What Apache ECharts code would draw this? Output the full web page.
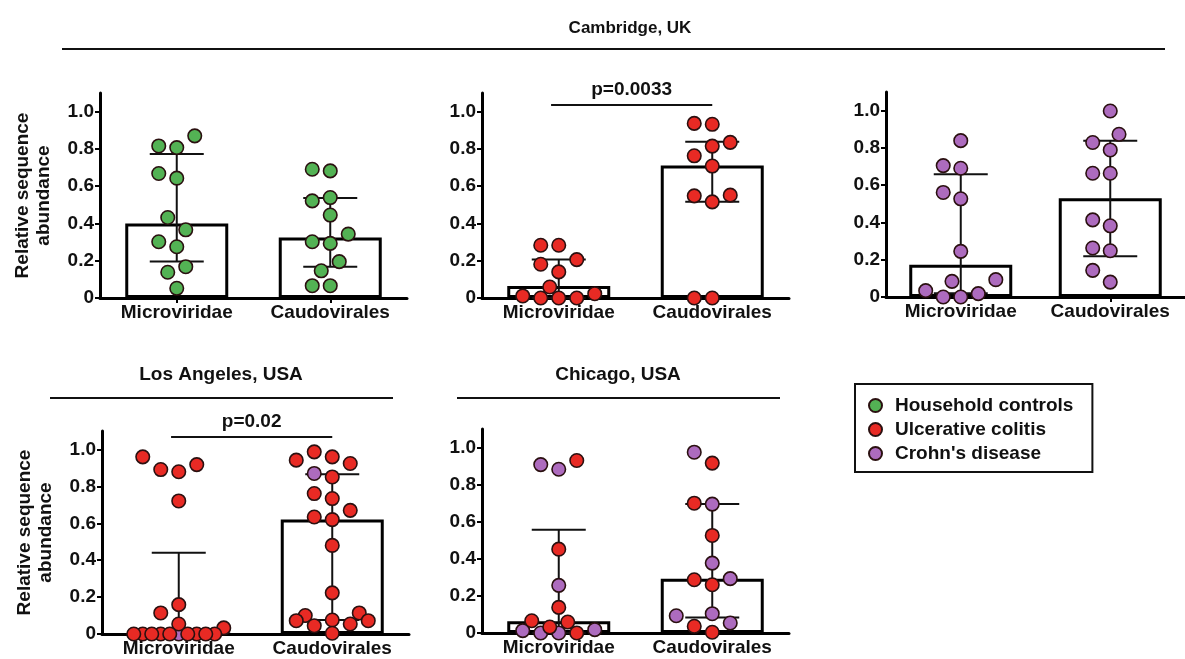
<!DOCTYPE html>
<html><head><meta charset="utf-8">
<script src="https://cdn.jsdelivr.net/npm/echarts@6/dist/echarts.min.js"></script>
<style>html,body{margin:0;padding:0;background:#fff}#c{width:1185px;height:659px}</style>
</head><body><div id="c"></div>
<script>
// ---------- DATA ----------
const categories = ['Microviridae', 'Caudovirales'];
const yTicks = [0, 0.2, 0.4, 0.6, 0.8, 1.0];
const groupNames = ['Household controls', 'Ulcerative colitis', "Crohn's disease"];

// Cambridge, UK — household controls
const cambHCMicro = [0.870, 0.816, 0.807, 0.668, 0.643, 0.432, 0.366, 0.302, 0.275, 0.168, 0.138, 0.052];
const cambHCCaudo = [0.691, 0.682, 0.539, 0.521, 0.445, 0.343, 0.302, 0.293, 0.195, 0.146, 0.066, 0.066];
const cambHCMedian = [0.400, 0.325];
const cambHCQ1 = [0.196, 0.168];
const cambHCQ3 = [0.773, 0.536];

// Cambridge, UK — ulcerative colitis
const cambUCMicro = [0.283, 0.283, 0.206, 0.181, 0.140, 0.059, 0.023, 0.011, 0, 0, 0];
const cambUCCaudo = [0.937, 0.932, 0.835, 0.815, 0.763, 0.708, 0.552, 0.548, 0.516, 0, 0];
const cambUCMedian = [0.065, 0.711];
const cambUCQ1 = [0, 0.516];
const cambUCQ3 = [0.206, 0.839];

// Cambridge, UK — Crohn's disease
const cambCDMicro = [0.839, 0.705, 0.691, 0.561, 0.527, 0.245, 0.093, 0.084, 0.034, 0.018, 0, 0];
const cambCDCaudo = [0.998, 0.873, 0.829, 0.789, 0.664, 0.664, 0.414, 0.382, 0.263, 0.248, 0.143, 0.080];
const cambCDMedian = [0.173, 0.530];
const cambCDQ1 = [0.020, 0.218];
const cambCDQ3 = [0.659, 0.839];

// Los Angeles, USA
const laUCMicro = [0.960, 0.918, 0.891, 0.879, 0.721, 0.159, 0.114, 0.054, 0.033, 0, 0, 0, 0, 0, 0, 0, 0, 0];
const laCDMicro = [0];
const laUCCaudo = [0.987, 0.960, 0.942, 0.924, 0.851, 0.761, 0.734, 0.670, 0.634, 0.620, 0.480, 0.223, 0.114, 0.100, 0.076, 0.072, 0.072, 0.054, 0.045, 0.004];
const laCDCaudo = [0.870];
const laMedian = [0, 0.621];
const laQ1 = [0, 0.076];
const laQ3 = [0.440, 0.866];

// Chicago, USA
const chiUCMicro = [0.930, 0.452, 0.138, 0.066, 0.059, 0.032, 0];
const chiCDMicro = [0.908, 0.883, 0.257, 0.018, 0.013, 0, 0];
const chiUCCaudo = [0.916, 0.700, 0.526, 0.287, 0.260, 0.036, 0.004];
const chiCDCaudo = [0.975, 0.695, 0.377, 0.293, 0.104, 0.093, 0.054];
const chiMedian = [0.063, 0.293];
const chiQ1 = [0, 0.084];
const chiQ3 = [0.557, 0.695];

const pTexts = ['p=0.0033', 'p=0.02'];

// ---------- PANEL DEFINITIONS ----------
const panels = [
  { median: cambHCMedian, q1: cambHCQ1, q3: cambHCQ3, groups: [{ g: 0, v: [cambHCMicro, cambHCCaudo] }], yName: true },
  { median: cambUCMedian, q1: cambUCQ1, q3: cambUCQ3, groups: [{ g: 1, v: [cambUCMicro, cambUCCaudo] }], p: pTexts[0], pLevel: 1.036 },
  { median: cambCDMedian, q1: cambCDQ1, q3: cambCDQ3, groups: [{ g: 2, v: [cambCDMicro, cambCDCaudo] }] },
  { median: laMedian, q1: laQ1, q3: laQ3, groups: [{ g: 2, v: [laCDMicro, laCDCaudo] }, { g: 1, v: [laUCMicro, laUCCaudo] }], yName: true, p: pTexts[1], pLevel: 1.067 },
  { median: chiMedian, q1: chiQ1, q3: chiQ3, groups: [{ g: 2, v: [chiCDMicro, chiCDCaudo] }, { g: 1, v: [chiUCMicro, chiUCCaudo] }] }
];

// ---------- LAYOUT / STYLE ----------
const FONT = '"Liberation Sans", Arial, Helvetica, sans-serif';
const layouts = [
  { left: 100, top: 93, width: 307, height: 205 },
  { left: 482, top: 93, width: 307, height: 205 },
  { left: 886, top: 92, width: 307, height: 205 },
  { left: 102, top: 431, width: 307, height: 203 },
  { left: 482, top: 429, width: 307, height: 204 }
];
const groupColors = ['#53B254', '#E82A24', '#AD6BBE'];
const YMAX = 1.1;

function swarmOffsets(items, pxPerUnit) {
  const STEP = 9, DIAM = 17, MAXK = 5;
  const cands = [0];
  for (let k = 1; k <= MAXK; k++) cands.push(-k * STEP, k * STEP);
  const order = items.map((d, i) => i).sort((a, b) => (items[a].v - items[b].v) || (a - b));
  const placed = [];
  const out = new Array(items.length);
  for (const idx of order) {
    const y = items[idx].v * pxPerUnit;
    let best = 0, bestD = -1;
    for (const c of cands) {
      let md = Infinity;
      for (const p of placed) {
        const d = Math.hypot(c - p.x, y - p.y);
        if (d < md) md = d;
      }
      if (md >= DIAM) { best = c; bestD = md; break; }
      if (md > bestD) { bestD = md; best = c; }
    }
    placed.push({ x: best, y: y });
    out[idx] = best;
  }
  return out;
}

const grid = [], xAxis = [], yAxis = [], series = [];
panels.forEach((pn, i) => {
  const L = layouts[i];
  grid.push({ left: L.left, top: L.top, width: L.width, height: L.height });
});
panels.forEach((pn, i) => {
  xAxis.push({
    gridIndex: i, type: 'category', data: categories, boundaryGap: true,
    axisLine: { show: true, lineStyle: { color: '#000', width: 3 } },
    axisTick: { show: true, alignWithLabel: true, length: 5, lineStyle: { color: '#000', width: 2 } },
    axisLabel: { interval: 0, margin: 5, fontFamily: FONT, fontWeight: 'bold', fontSize: 19, color: '#111' },
    splitLine: { show: false }
  });
});
panels.forEach((pn, i) => {
  xAxis.push({ gridIndex: i, type: 'value', min: 0, max: 2, show: false });
});
panels.forEach((pn, i) => {
  const y = {
    gridIndex: i, type: 'value', min: 0, max: YMAX, interval: 0.2,
    axisLine: { show: true, lineStyle: { color: '#000', width: 3 } },
    axisTick: { show: true, length: 5, lineStyle: { color: '#000', width: 2 }, customValues: yTicks },
    axisLabel: {
      customValues: yTicks, margin: 6,
      fontFamily: FONT, fontWeight: 'bold', fontSize: 19, color: '#111',
      formatter: v => (Math.abs(v - YMAX) < 1e-6 ? '' : (v === 0 ? '0' : Number(v).toFixed(1)))
    },
    splitLine: { show: false }
  };
  if (pn.yName) {
    y.name = 'Relative sequence\nabundance';
    y.nameLocation = 'middle';
    y.nameRotate = 90;
    y.nameGap = 46;
    y.nameTextStyle = { fontFamily: FONT, fontWeight: 'bold', fontSize: 19, lineHeight: 21, color: '#111' };
  }
  yAxis.push(y);
});

panels.forEach((pn, i) => {
  const L = layouts[i];
  const pxPerY = L.height / YMAX;
  const pxPerX = L.width / 2;
  // bars (median)
  series.push({
    type: 'bar', xAxisIndex: i, yAxisIndex: i, data: pn.median, barWidth: 103, z: 2,
    itemStyle: { color: '#fff', borderColor: '#000', borderWidth: 3 }, silent: true
  });
  // error bars (interquartile range)
  series.push({
    type: 'custom', xAxisIndex: 5 + i, yAxisIndex: i, z: 3, silent: true,
    data: pn.median.map((m, c) => [c + 0.5, pn.q1[c], pn.q3[c]]),
    renderItem: (params, api) => {
      const a = api.coord([api.value(0), api.value(1)]);
      const b = api.coord([api.value(0), api.value(2)]);
      const hw = 27;
      const st = { stroke: '#111', lineWidth: 2 };
      return { type: 'group', children: [
        { type: 'line', shape: { x1: a[0], y1: a[1], x2: b[0], y2: b[1] }, style: st },
        { type: 'line', shape: { x1: b[0] - hw, y1: b[1], x2: b[0] + hw, y2: b[1] }, style: st },
        { type: 'line', shape: { x1: a[0] - hw, y1: a[1], x2: a[0] + hw, y2: a[1] }, style: st }
      ] };
    }
  });
  // scatter points with swarm layout
  const perGroup = pn.groups.map(() => []);
  [0, 1].forEach(c => {
    const items = [];
    pn.groups.forEach((gr, gi) => gr.v[c].forEach(v => items.push({ v: v, gi: gi })));
    const offs = swarmOffsets(items, pxPerY);
    items.forEach((it, k) => perGroup[it.gi].push([c + 0.5 + offs[k] / pxPerX, it.v]));
  });
  pn.groups.forEach((gr, gi) => {
    series.push({
      type: 'scatter', name: groupNames[gr.g], xAxisIndex: 5 + i, yAxisIndex: i, z: 4,
      symbol: 'circle', symbolSize: 13.5, data: perGroup[gi],
      itemStyle: { color: groupColors[gr.g], borderColor: '#2a1010', borderWidth: 1.6, opacity: 1 }
    });
  });
  // significance bracket
  if (pn.p) {
    series.push({
      type: 'custom', xAxisIndex: 5 + i, yAxisIndex: i, z: 5, silent: true, clip: false,
      data: [[0.45, 1.5, pn.pLevel]],
      renderItem: (params, api) => {
        const a = api.coord([api.value(0), api.value(2)]);
        const b = api.coord([api.value(1), api.value(2)]);
        return { type: 'group', children: [
          { type: 'line', shape: { x1: a[0], y1: a[1], x2: b[0], y2: b[1] }, style: { stroke: '#111', lineWidth: 2 } },
          { type: 'text', style: { text: pn.p, x: (a[0] + b[0]) / 2, y: a[1] - 6, font: 'bold 19px ' + FONT,
            fill: '#111', textAlign: 'center', textVerticalAlign: 'bottom', align: 'center', verticalAlign: 'bottom' } }
        ] };
      }
    });
  }
});

function titleText(t, x, y, size) {
  return { type: 'text', x: x, y: y, silent: true,
    style: { text: t, font: 'bold ' + size + 'px ' + FONT, fill: '#111',
      textAlign: 'center', textVerticalAlign: 'middle', align: 'center', verticalAlign: 'middle' } };
}
function hLine(x1, x2, y) {
  return { type: 'line', silent: true, shape: { x1: x1, y1: y, x2: x2, y2: y }, style: { stroke: '#111', lineWidth: 2 } };
}

const option = {
  animation: false,
  backgroundColor: '#fff',
  grid: grid, xAxis: xAxis, yAxis: yAxis, series: series,
  legend: {
    data: groupNames, orient: 'vertical', left: 855, top: 384,
    icon: 'circle', itemWidth: 13, itemHeight: 13, itemGap: 5,
    borderColor: '#111', borderWidth: 2, padding: [12, 19, 9, 13],
    textStyle: { fontFamily: FONT, fontWeight: 'bold', fontSize: 19, color: '#111', padding: [0, 0, 0, 8] },
    selectedMode: false
  },
  graphic: [
    titleText('Cambridge, UK', 630, 28, 17),
    hLine(62, 1165, 49),
    titleText('Los Angeles, USA', 221, 375, 19),
    hLine(50, 393, 398),
    titleText('Chicago, USA', 618, 375, 19),
    hLine(457, 780, 398)
  ]
};
const chart = echarts.init(document.getElementById('c'), null, { renderer: 'canvas' });
chart.setOption(option);
</script>
</body></html>
